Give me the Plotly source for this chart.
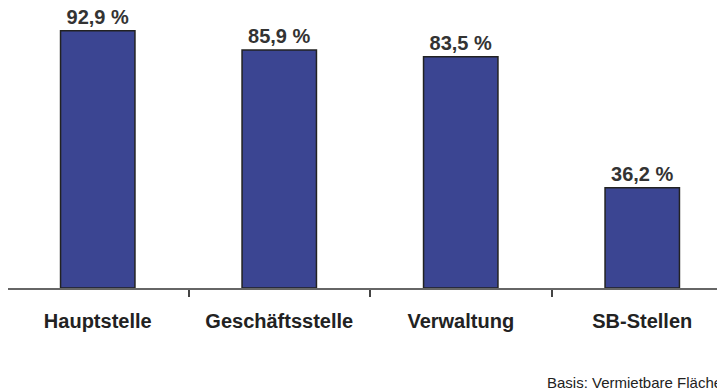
import plotly.graph_objects as go

categories = ["Hauptstelle", "Geschäftsstelle", "Verwaltung", "SB-Stellen"]
values = [92.9, 85.9, 83.5, 36.2]
value_labels = ["92,9 %", "85,9 %", "83,5 %", "36,2 %"]
footnote = "Basis: Vermietbare Fläche"

# page body has an 8px default margin; size the figure to the visible window
OFF = 8
W, H = 725 - OFF, 390 - OFF
axis_y = 288 - OFF
top_y = 11 - OFF
ml, mr, mt, mb = 0, 0, top_y, H - axis_y
cat_px = 181.5
first_boundary_px = 7 - OFF

x0 = -0.5 - first_boundary_px / cat_px
x1 = x0 + (W - ml - mr) / cat_px

fig = go.Figure(
    go.Bar(
        x=categories,
        y=values,
        text=value_labels,
        textposition="outside",
        textfont=dict(family="Liberation Sans, Arial", size=20, color="#333333", weight="bold"),
        marker=dict(color="#3b4592", line=dict(color="#222222", width=1.5)),
        width=0.41,
        cliponaxis=False,
    )
)

fig.update_layout(
    width=W,
    height=H,
    margin=dict(l=ml, r=mr, t=mt, b=mb, autoexpand=False),
    paper_bgcolor="white",
    plot_bgcolor="white",
    showlegend=False,
    xaxis=dict(
        type="category",
        range=[x0, x1],
        automargin=False,
        tickson="boundaries",
        ticks="outside",
        ticklen=7,
        tickwidth=1.5,
        tickcolor="#444444",
        showline=True,
        linecolor="#666666",
        linewidth=1.5,
        showgrid=False,
        zeroline=False,
        ticklabelstandoff=14,
        tickfont=dict(family="Liberation Sans, Arial", size=20, color="#222222", weight="bold"),
    ),
    yaxis=dict(range=[0, 100], visible=False, showgrid=False, zeroline=False, automargin=False),
    annotations=[
        dict(
            text=footnote,
            xref="paper",
            yref="paper",
            x=(545 - OFF) / W,
            y=(axis_y - (382 - OFF)) / (axis_y - top_y),
            xanchor="left",
            yanchor="middle",
            showarrow=False,
            font=dict(family="Liberation Sans, Arial", size=15, color="#222222"),
        )
    ],
)

fig.write_html("out.html")
